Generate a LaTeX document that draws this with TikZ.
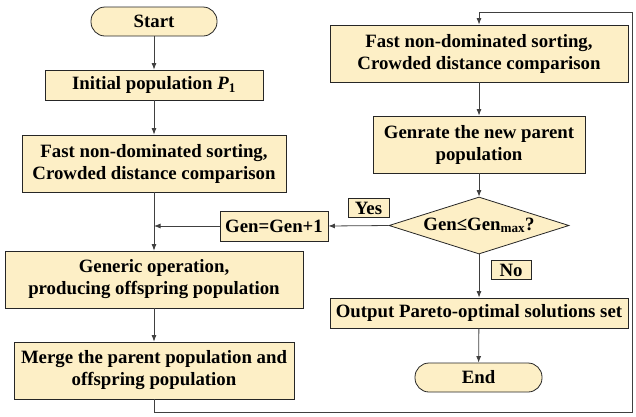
\documentclass[tikz,border=0pt]{standalone}
\usepackage{fontspec}
\setmainfont{Liberation Serif}
\usepackage{xcolor}
\usepackage{tikz}
\usetikzlibrary{
    calc,
    arrows.meta,
    shapes.geometric
}
\definecolor{boxfill}{RGB}{253,239,198}
\tikzset{
    flowbox/.style={draw=black!85, fill=boxfill, line width=0.8pt, align=center,
        inner sep=0pt, font=\fontsize{18.8}{22}\selectfont\bfseries},
    terminal/.style={flowbox, rounded corners=14pt, minimum height=29pt},
    process/.style={flowbox, minimum height=30pt},
    twoline/.style={flowbox, minimum height=57pt},
    decision/.style={flowbox, diamond, aspect=3.16, minimum width=180pt, minimum height=57pt},
    tag/.style={flowbox, minimum height=19pt},
    flow/.style={-{Latex[length=6.5pt,width=5pt]}, line width=0.8pt, draw=black!75}
}

\begin{document}
\begin{tikzpicture}[x=1pt, y=-1pt]
        \useasboundingbox (0,0) rectangle (636,416);

        % left column
        \draw (154,21.5) node[terminal, minimum width=126pt](start){Start};
        \draw (154,85) node[process, minimum width=218pt](init){Initial population \textit{P}\textsubscript{1}};
        \draw (154,163.5) node[twoline, minimum width=264pt](sort1){Fast non-dominated sorting,\\Crowded distance comparison};
        \draw (274,226) node[process, minimum width=108pt](incr){Gen=Gen+1};
        \draw (154,279.5) node[twoline, minimum width=298pt](genop){Generic operation,\\producing offspring population};
        \draw (154,370.5) node[twoline, minimum width=280pt](merge){Merge the parent population and\\offspring population};

        % right column
        \draw (479,53.5) node[twoline, minimum width=298pt](sort2){Fast non-dominated sorting,\\Crowded distance comparison};
        \draw (479,144.5) node[twoline, minimum width=212pt](newpar){Genrate the new parent\\population};
        \draw (479,225.5) node[decision](check){Gen≤Gen\textsubscript{max}?};
        \draw (368.5,208) node[tag, minimum width=41pt](yes){Yes};
        \draw (511,270) node[tag, minimum width=40pt](no){No};
        \draw (479,313) node[process, minimum width=298pt](output){Output Pareto-optimal solutions set};
        \draw (478.5,377.5) node[terminal, minimum width=127pt](stop){End};

        \coordinate (loopbr) at (632,412);
        \coordinate (looptr) at (632,12);

        \draw[flow] (start) -- (init);
        \draw[flow] (init) -- (sort1);
        \draw[flow] (sort1) -- (genop);
        \draw[flow] (incr.west) -- (incr.west -| sort1.south);
        \draw[flow] (genop) -- (merge);
        \draw[flow] (merge.south) |- (loopbr) -- (looptr) -| (sort2.north);

        \draw[flow] (sort2) -- (newpar);
        \draw[flow] (newpar) -- (check);
        \draw[flow] (check.west) -- (incr.east);
        \draw[flow] (check.south) -- (output.north);
        \draw[flow] (output) -- (stop);
    \end{tikzpicture}
\end{document}
